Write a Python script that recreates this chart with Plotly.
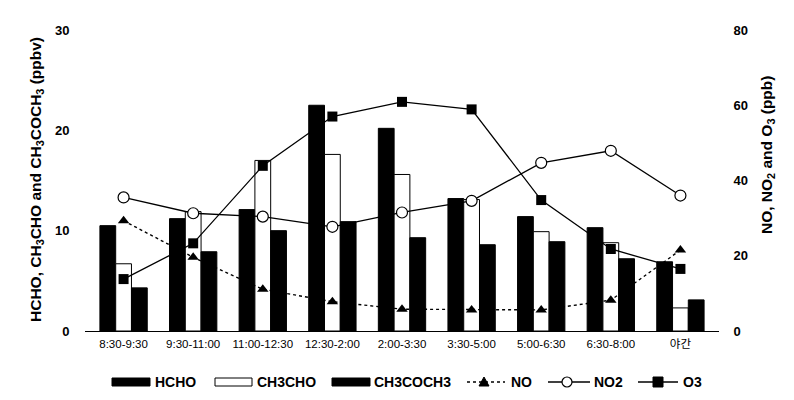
import plotly.graph_objects as go

categories = ["8:30-9:30", "9:30-11:00", "11:00-12:30", "12:30-2:00", "2:00-3:30",
              "3:30-5:00", "5:00-6:30", "6:30-8:00", "야간"]

hcho = [10.5, 11.2, 12.1, 22.5, 20.2, 13.2, 11.4, 10.3, 6.9]
ch3cho = [6.7, 11.9, 17.0, 17.6, 15.6, 13.1, 9.9, 8.8, 2.3]
ch3coch3 = [4.3, 7.9, 10.0, 10.9, 9.3, 8.6, 8.9, 7.2, 3.1]

no = [29.3, 19.6, 11.1, 7.8, 5.8, 5.6, 5.6, 8.2, 21.5]
no2 = [35.5, 31.3, 30.4, 27.7, 31.5, 34.6, 44.7, 47.9, 36.0]
o3 = [13.8, 23.3, 43.9, 57.0, 60.9, 58.9, 34.8, 21.8, 16.5]

left_ticks = [0, 10, 20, 30]
right_ticks = [0, 20, 40, 60, 80]

legend_names = ["HCHO", "CH3CHO", "CH3COCH3", "NO", "NO2", "O3"]

FONT = "Liberation Sans, Arial, Noto Sans CJK KR, sans-serif"

W, H = 794, 400
ML, MR, MT, MB = 85, 75, 30, 69
PW, PH = W - ML - MR, H - MT - MB


def px(x):
    return (x - ML) / PW


def py(y):
    return (H - MB - y) / PH


fig = go.Figure()
fig.add_trace(go.Bar(x=categories, y=hcho, name=legend_names[0],
                     marker=dict(color="black", line=dict(color="black", width=1))))
fig.add_trace(go.Bar(x=categories, y=ch3cho, name=legend_names[1],
                     marker=dict(color="white", line=dict(color="black", width=1))))
fig.add_trace(go.Bar(x=categories, y=ch3coch3, name=legend_names[2],
                     marker=dict(color="black", line=dict(color="black", width=1))))

fig.add_trace(go.Scatter(x=categories, y=no, name=legend_names[3], yaxis="y2", mode="lines+markers",
                         line=dict(color="black", width=1.4, dash="dot"),
                         marker=dict(symbol="triangle-up", size=10, color="black")))
fig.add_trace(go.Scatter(x=categories, y=no2, name=legend_names[4], yaxis="y2", mode="lines+markers",
                         line=dict(color="black", width=1.3),
                         marker=dict(symbol="circle", size=11, color="white",
                                     line=dict(color="black", width=1.2))))
fig.add_trace(go.Scatter(x=categories, y=o3, name=legend_names[5], yaxis="y2", mode="lines+markers",
                         line=dict(color="black", width=1.3),
                         marker=dict(symbol="square", size=10, color="black")))

# ---- manual legend (keys drawn as shapes, in pixel units) ----
LY = 382
shapes = []
annotations = []
bar_keys = [(112, 150, "black", 153), (215, 252, "white", 255), (332, 370, "black", 372)]
for (x0, x1, fill, tx), name in zip(bar_keys, legend_names[:3]):
    shapes.append(dict(type="rect", xref="paper", yref="paper",
                       x0=px(x0), x1=px(x1), y0=py(LY + 4), y1=py(LY - 4),
                       fillcolor=fill, line=dict(color="black", width=1)))
    annotations.append(dict(text="<b>%s</b>" % name, xref="paper", yref="paper",
                            x=px(tx), y=py(LY), xanchor="left", yanchor="middle",
                            showarrow=False, font=dict(size=14, family=FONT, weight="bold")))
line_keys = [(467, 505, 484, "dot", "tri", 509),
             (548, 590, 567, "solid", "circle", 592),
             (638, 678, 658, "solid", "square", 681)]
for (x0, x1, mx, dash, mk, tx), name in zip(line_keys, legend_names[3:]):
    shapes.append(dict(type="line", xref="paper", yref="paper",
                       x0=px(x0), x1=px(x1), y0=py(LY), y1=py(LY),
                       line=dict(color="black", width=1.3, dash=dash)))
    if mk == "tri":
        shapes.append(dict(type="path", xref="paper", yref="paper",
                           xsizemode="pixel", ysizemode="pixel",
                           xanchor=px(mx), yanchor=py(LY),
                           path="M -5,-4 L 5,-4 L 0,5 Z",
                           fillcolor="black", line=dict(color="black", width=1)))
    elif mk == "circle":
        shapes.append(dict(type="circle", xref="paper", yref="paper",
                           xsizemode="pixel", ysizemode="pixel",
                           xanchor=px(mx), yanchor=py(LY),
                           x0=-5, x1=5, y0=-5, y1=5,
                           fillcolor="white", line=dict(color="black", width=1.2)))
    else:
        shapes.append(dict(type="rect", xref="paper", yref="paper",
                           xsizemode="pixel", ysizemode="pixel",
                           xanchor=px(mx), yanchor=py(LY),
                           x0=-5, x1=5, y0=-5, y1=5,
                           fillcolor="black", line=dict(color="black", width=1)))
    annotations.append(dict(text="<b>%s</b>" % name, xref="paper", yref="paper",
                            x=px(tx), y=py(LY), xanchor="left", yanchor="middle",
                            showarrow=False, font=dict(size=14, family=FONT, weight="bold")))

annotations += [
    dict(text="<b>HCHO, CH<sub>3</sub>CHO and CH<sub>3</sub>COCH<sub>3</sub> (ppbv)</b>",
         xref="paper", yref="paper", x=px(36), y=py(180), textangle=-90,
         xanchor="center", yanchor="middle",
         showarrow=False, font=dict(size=15.5, family=FONT)),
    dict(text="<b>NO, NO<sub>2</sub> and O<sub>3</sub> (ppb)</b>",
         xref="paper", yref="paper", x=px(767), y=py(155), textangle=-90,
         xanchor="center", yanchor="middle",
         showarrow=False, font=dict(size=15.5, family=FONT)),
]

fig.update_layout(
    width=W, height=H,
    margin=dict(l=ML, r=MR, t=MT, b=MB, autoexpand=False),
    paper_bgcolor="white", plot_bgcolor="white",
    font=dict(family=FONT, color="black"),
    barmode="group", bargap=0.32, bargroupgap=0,
    showlegend=False,
    xaxis=dict(showline=True, linecolor="black", linewidth=1, showgrid=False,
               ticks="outside", ticklen=2, tickcolor="rgba(0,0,0,0)", automargin=False,
               tickfont=dict(size=11.5, family=FONT)),
    yaxis=dict(range=[0, 30], tickvals=left_ticks, showgrid=False, zeroline=False,
               showline=False, ticks="outside", ticklen=12, tickcolor="rgba(0,0,0,0)",
               automargin=False,
               tickfont=dict(size=13, family=FONT, weight="bold")),
    yaxis2=dict(range=[0, 80], tickvals=right_ticks, overlaying="y", side="right",
                showgrid=False, zeroline=False, showline=False, automargin=False,
                ticks="outside", ticklen=11, tickcolor="rgba(0,0,0,0)",
                tickfont=dict(size=13, family=FONT, weight="bold")),
    shapes=shapes,
    annotations=annotations,
)

fig.write_html("out.html", config={"displayModeBar": False})

# remove the browser's default page margin so the figure sits at (0, 0)
with open("out.html", "r", encoding="utf-8") as f:
    html = f.read()
html = html.replace("<head>", "<head><style>html,body{margin:0;padding:0;}</style>", 1)
with open("out.html", "w", encoding="utf-8") as f:
    f.write(html)
